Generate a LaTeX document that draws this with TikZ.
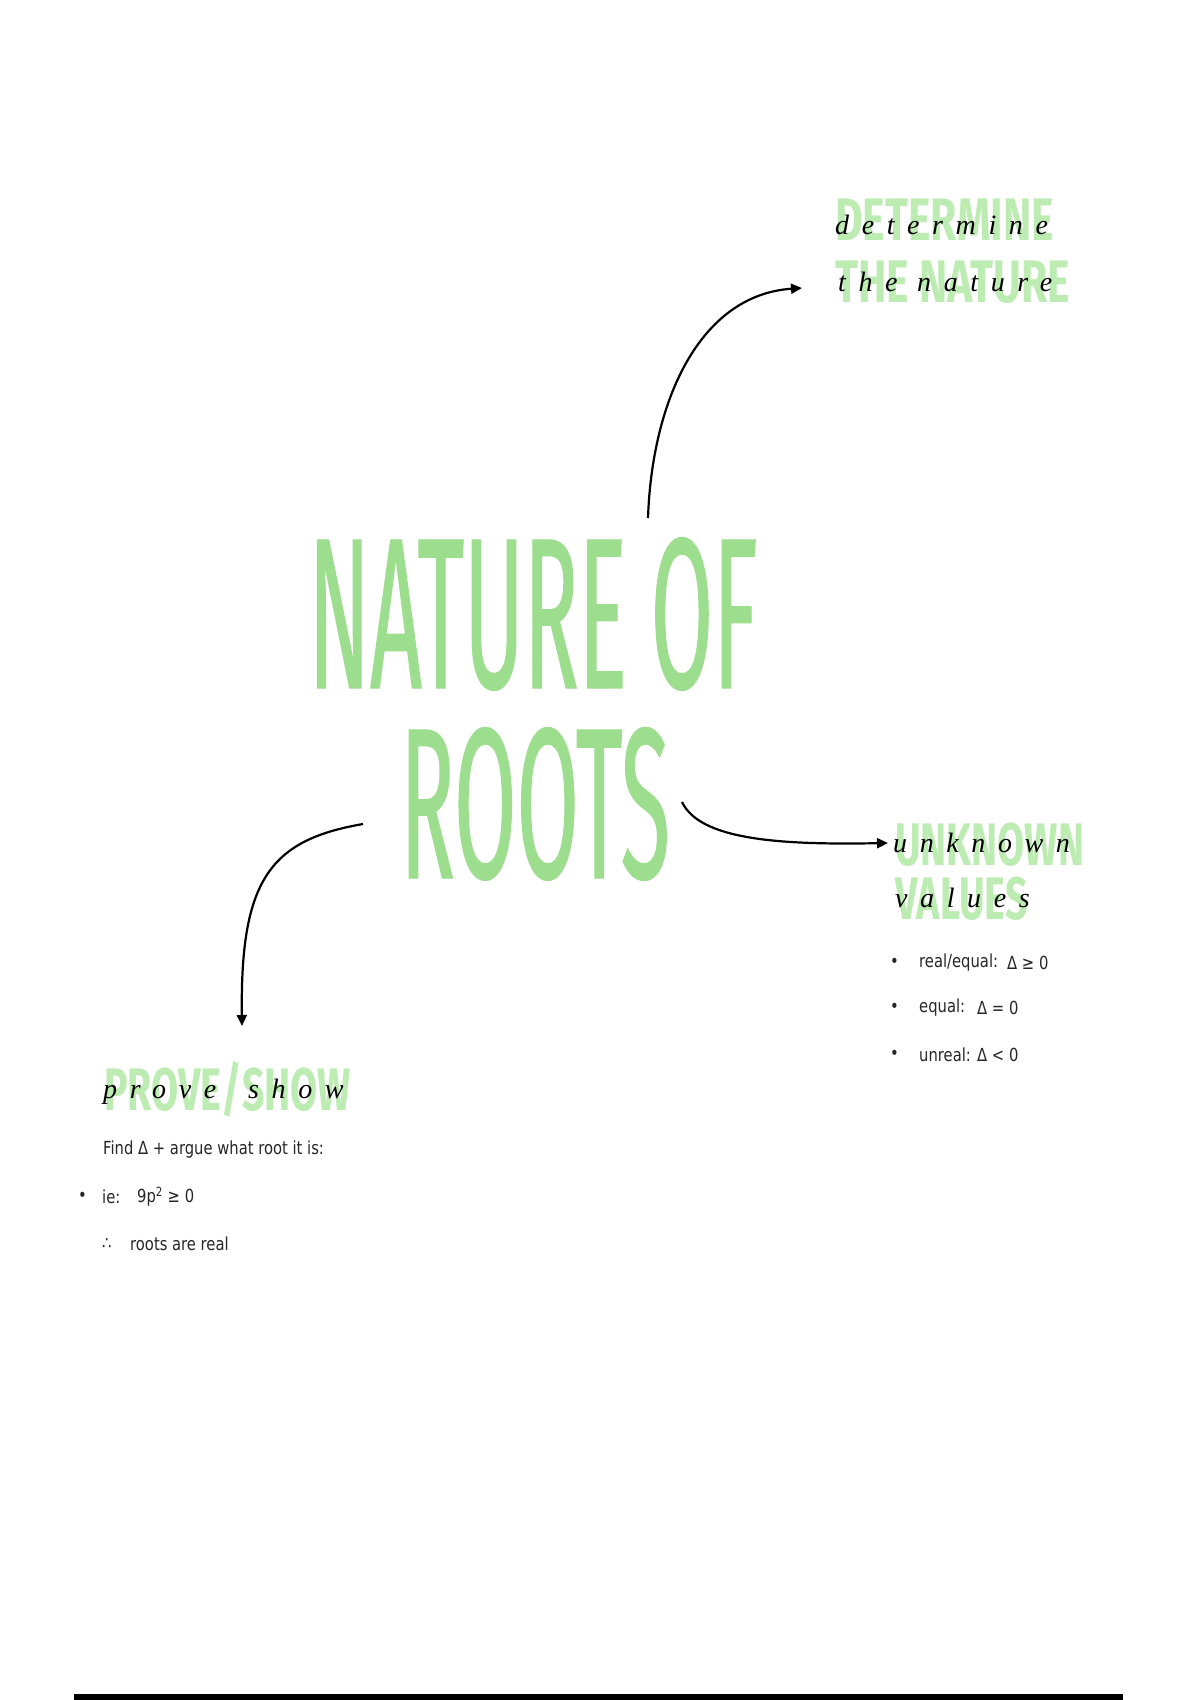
\documentclass[tikz,border=0pt]{standalone}
\usepackage{fontspec}
\usetikzlibrary{arrows.meta}
\newfontfamily\titlef[FakeStretch=0.42,FakeBold=0.5]{Fira Sans}
\newfontfamily\headf[FakeStretch=0.71]{Fira Sans}
\newfontfamily\headg[FakeStretch=0.655]{Fira Sans}
\newfontfamily\smallf[FakeStretch=0.82]{DejaVu Sans}
\newfontfamily\cursf[LetterSpace=45]{Liberation Serif}
\definecolor{titlegreen}{RGB}{156,222,142}
\definecolor{headgreen}{RGB}{188,236,178}
\tikzset{
  titletext/.style={inner sep=0, anchor=base, text=titlegreen, font=\titlef\fontsize{215}{215}\selectfont},
  headtext/.style={inner sep=0, anchor=base west, text=headgreen, font=\headf\bfseries\fontsize{60}{60}\selectfont},
  headnarrow/.style={headtext, font=\headg\bfseries\fontsize{60}{60}\selectfont},
  curstext/.style={inner sep=0, anchor=base west, text=black, font=\cursf\itshape\fontsize{28}{28}\selectfont},
  smalltext/.style={inner sep=0, anchor=west, text=black!85, font=\smallf\fontsize{18}{18}\selectfont},
  conn/.style={line width=2.2pt, black, -{Triangle[length=11pt,width=10pt]}}
}
\begin{document}
\begin{tikzpicture}[x=1pt,y=-1pt]
\useasboundingbox (0,0) rectangle (1200,1700);
\fill[white] (0,0) rectangle (1200,1700);

% title
\node[titletext] (t1) at (533,688) {NATURE OF};
\node[titletext] (t2) at (535,878) {ROOTS};

% top-right heading
\node[headtext] (h1a) at (835,240) {DETERMINE};
\node[headtext] (h1b) at (835,302) {THE NATURE};
\node[curstext] (c1a) at (835,234) {determine};
\node[curstext] (c1b) at (838,291) {the nature};

% right heading
\node[headnarrow] (h2a) at (895,865) {UNKNOWN};
\node[headnarrow] (h2b) at (895,919) {VALUES};
\node[curstext] (c2a) at (893,852) {unknown};
\node[curstext] (c2b) at (895,907) {values};

\node[smalltext] (b1) at (890,963) {•};
\node[smalltext] (r1) at (919,963) {real/equal:};
\node[smalltext] (r1m) at (1007,963) {Δ ≥ 0};
\node[smalltext] (b2) at (890,1008) {•};
\node[smalltext] (r2) at (919,1008) {equal:};
\node[smalltext] (r2m) at (977,1008) {Δ = 0};
\node[smalltext] (b3) at (890,1055) {•};
\node[smalltext] (r3) at (919,1055) {unreal:};
\node[smalltext] (r3m) at (977,1055) {Δ < 0};

% left heading
\node[headnarrow] (h3) at (104,1110) {PROVE/SHOW};
\node[curstext] (c3a) at (103,1098) {prove};
\node[curstext] (c3b) at (248,1098) {show};

\node[smalltext] (l1) at (103,1150) {Find Δ + argue what root it is:};
\node[smalltext] (lb) at (78,1197) {•};
\node[smalltext] (l2) at (102,1197) {ie:};
\node[smalltext] (l2m) at (137,1197) {9p\textsuperscript{2} ≥ 0};
\node[smalltext] (l3a) at (102,1244) {∴};
\node[smalltext] (l3) at (130,1244) {roots are real};

% connectors
\coordinate (s1) at (648,518);
\coordinate (e1) at (802,288);
\coordinate (s2) at (682,802);
\coordinate (e2) at (888,843);
\coordinate (s3) at (363,824);
\coordinate (e3) at (242,1026);
\draw[conn] (s1) .. controls (652,400) and (700,295) .. (e1);
\draw[conn] (s2) .. controls (700,840) and (780,845) .. (e2);
\draw[conn] (s3) .. controls (270,840) and (240,880) .. (e3);

% bottom bar
\fill[black] (74,1694) rectangle (1123,1700);
\end{tikzpicture}
\end{document}
